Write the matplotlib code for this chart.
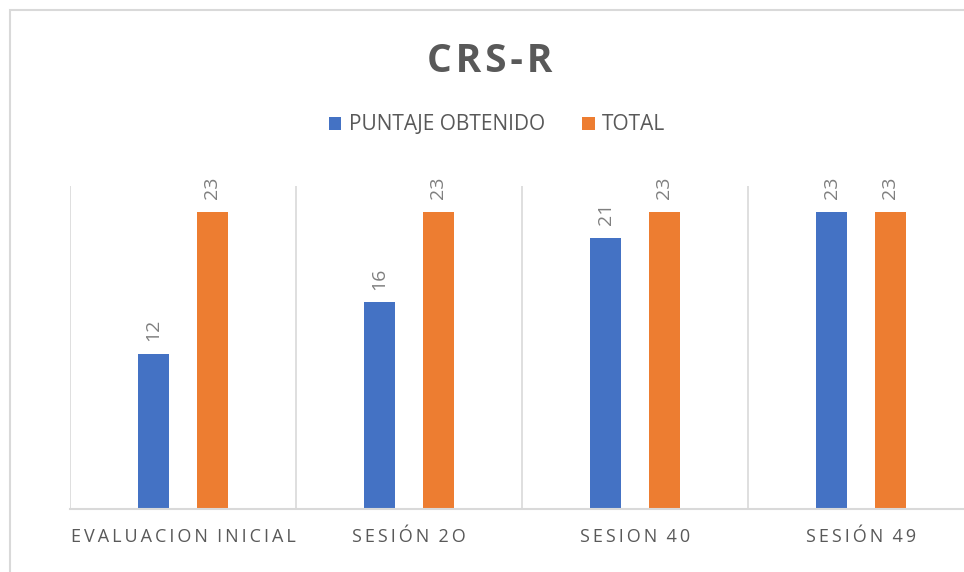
import matplotlib
matplotlib.use("Agg")
import matplotlib.pyplot as plt
from matplotlib.patches import Rectangle
import numpy as np

categories = ["EVALUACION INICIAL", "SESIÓN 2O", "SESION 40", "SESIÓN 49"]
series_names = ["PUNTAJE OBTENIDO", "TOTAL"]
puntaje = [12, 16, 21, 23]
total = [23, 23, 23, 23]

BLUE = "#4472C4"
ORANGE = "#ED7D31"
GRAY = "#595959"
GRID = "#D9D9D9"

plt.rcParams['font.family'] = ['Open Sans', 'DejaVu Sans']

fig = plt.figure(figsize=(9.64, 5.72), dpi=100)
ax = fig.add_axes([70/964, 1-509/572, 904/964, (509-186)/572])

x = np.arange(len(categories))
w = 0.137
off = 0.13
b1 = ax.bar(x - off, puntaje, w, color=BLUE, label=series_names[0])
b2 = ax.bar(x + off, total, w, color=ORANGE, label=series_names[1])

for bars, vals in ((b1, puntaje), (b2, total)):
    for r, v in zip(bars, vals):
        ax.annotate(str(v), (r.get_x() + r.get_width()/2, v), xytext=(0, 9),
                    textcoords="offset points", rotation=90, ha="center", va="bottom",
                    fontsize=14, color="#7F7F7F")

ax.set_xlim(-0.5, len(categories) - 0.5)
ax.set_ylim(0, 25)
for b in np.arange(-0.5, len(categories), 1.0):
    ax.axvline(b, color=GRID, lw=1.2, zorder=0)
ax.set_yticks([])
ax.set_xticks(x)
spaced = ["\u2009".join(list(c)).replace("\u2009 \u2009", "  ") for c in categories]
ax.set_xticklabels(spaced, fontsize=13, color=GRAY)
ax.tick_params(axis='x', length=0, pad=14)
for s in ("top", "right", "left"):
    ax.spines[s].set_visible(False)
ax.spines["bottom"].set_color(GRID)
ax.spines["bottom"].set_linewidth(1.5)

fig.text(490/964, 1-61/572, "C\u200aR\u200aS\u200a-\u200aR", ha="center", va="center", fontsize=28,
         fontweight="bold", color=GRAY)

fig.legend(handles=[b1, b2], loc="center", bbox_to_anchor=(497/964, 1-125/572),
           ncol=2, frameon=False, fontsize=15, labelcolor=GRAY,
           handlelength=0.6, handleheight=0.6, handletextpad=0.35, columnspacing=1.8)

fig.patches.append(Rectangle((10/964, -0.05), 1.1, 1-10/572+0.05, transform=fig.transFigure,
                             fill=False, edgecolor=GRID, lw=1.5))

fig.savefig("out.png", dpi=100)
